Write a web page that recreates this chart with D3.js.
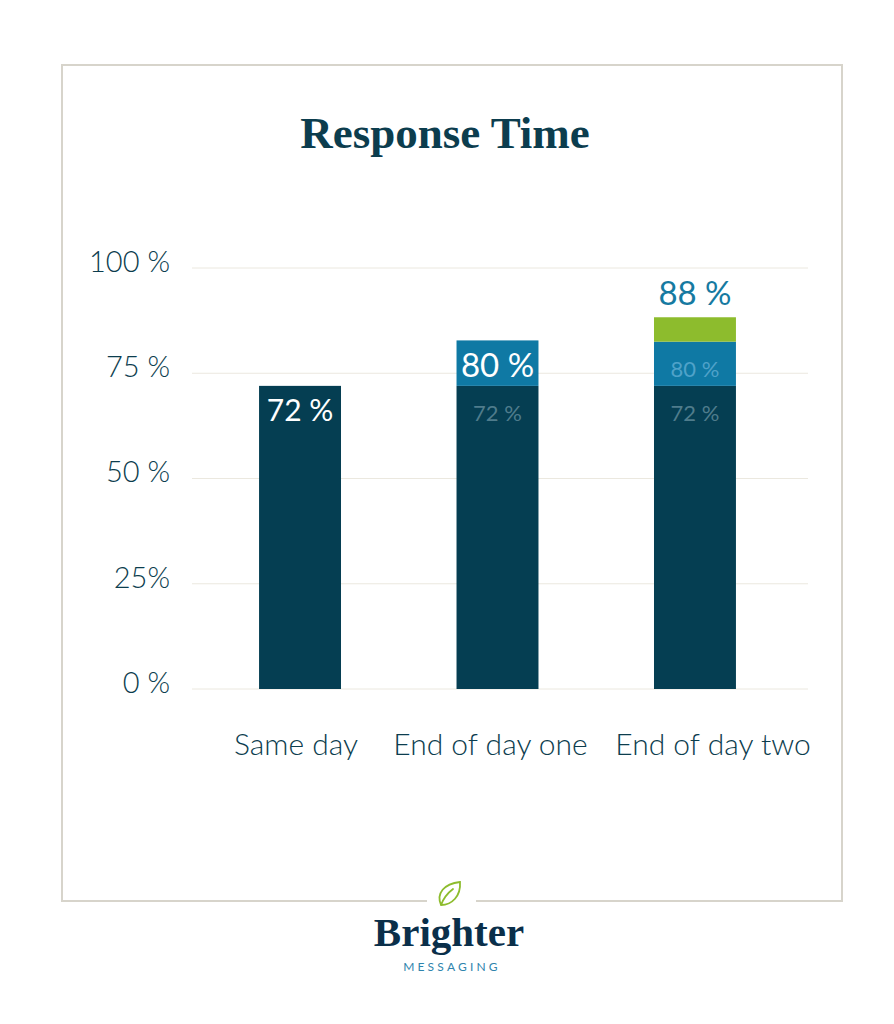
<!DOCTYPE html>
<html>
<head>
<meta charset="utf-8">
<script src="https://cdn.jsdelivr.net/npm/d3@7"></script>
<style>
  body { margin: 0; background: #fff; }
</style>
</head>
<body>
<div id="chart"></div>
<script>
const categories = ["Same day", "End of day one", "End of day two"];
const seriesKeys = ["sameDay", "dayOne", "dayTwo"];
// stacked segment heights (percentage points) as drawn
const sameDay = [72, 72, 72];
const dayOne = [0, 10.8, 10.5];
const dayTwo = [0, 0, 5.8];
// text shown in each segment ("" = none)
const sameDayLabels = ["72 %", "72 %", "72 %"];
const dayOneLabels = ["", "80 %", "80 %"];
const dayTwoLabels = ["", "", "88 %"];
const yTicks = [0, 25, 50, 75, 100];
const yTickLabels = ["0 %", "25%", "50 %", "75 %", "100 %"];

const width = 894, height = 1024;
const colors = { sameDay: "#053e52", dayOne: "#0f79a4", dayTwo: "#8dbc2d" };
const ink = "#0c3d4e";
// category labels are not quite centred under the bars in the original
const labelNudge = [-4, -7, 18];

const svg = d3.select("#chart").append("svg")
  .attr("width", width)
  .attr("height", height);

// frame with gap for the logo
svg.append("path")
  .attr("d", "M427,901 H62 V65 H842 V901 H476")
  .attr("fill", "none")
  .attr("stroke", "#d7d4cb")
  .attr("stroke-width", 2);

svg.append("text")
  .attr("x", 445).attr("y", 148)
  .attr("text-anchor", "middle")
  .attr("font-family", "'Liberation Serif', serif")
  .attr("font-weight", "bold")
  .attr("font-size", 45)
  .attr("fill", ink)
  .text("Response Time");

const x = d3.scaleBand()
  .domain(categories)
  .range([201, 794])
  .paddingInner(0.585)
  .paddingOuter(0.294);

const y = d3.scaleLinear()
  .domain([0, 100])
  .range([689, 268]);

// gridlines
svg.append("g")
  .selectAll("line")
  .data(yTicks)
  .join("line")
  .attr("x1", 192).attr("x2", 808)
  .attr("y1", d => y(d)).attr("y2", d => y(d))
  .attr("stroke", "#ebe8df")
  .attr("stroke-width", 1);

// y axis labels
const yAxis = d3.axisLeft(y)
  .tickValues(yTicks)
  .tickSize(0)
  .tickPadding(0)
  .tickFormat((d, i) => yTickLabels[i]);

svg.append("g")
  .attr("transform", "translate(170,0)")
  .call(yAxis)
  .call(g => g.select(".domain").remove())
  .call(g => g.selectAll("text")
    .attr("dy", "0.12em")
    .attr("font-family", "Lato, sans-serif")
    .attr("font-weight", 300)
    .attr("font-size", 29)
    .attr("fill", ink));

// category labels
const xAxis = d3.axisBottom(x).tickSize(0).tickPadding(0);
svg.append("g")
  .attr("transform", "translate(0,734)")
  .call(xAxis)
  .call(g => g.select(".domain").remove())
  .call(g => g.selectAll("text")
    .attr("dy", "0.7em")
    .attr("x", (d, i) => labelNudge[i])
    .attr("font-family", "Lato, sans-serif")
    .attr("font-weight", 300)
    .attr("font-size", 30)
    .attr("fill", ink));

// stacked bars
const rows = categories.map((c, i) => ({
  category: c, sameDay: sameDay[i], dayOne: dayOne[i], dayTwo: dayTwo[i]
}));
const labelSets = { sameDay: sameDayLabels, dayOne: dayOneLabels, dayTwo: dayTwoLabels };
const stacked = d3.stack().keys(seriesKeys)(rows);

const layer = svg.append("g").selectAll("g")
  .data(stacked)
  .join("g")
  .attr("fill", d => colors[d.key]);

layer.selectAll("rect")
  .data(d => d.filter(s => s[1] > s[0]))
  .join("rect")
  .attr("x", d => x(d.data.category))
  .attr("y", d => y(d[1]))
  .attr("width", x.bandwidth())
  .attr("height", d => y(d[0]) - y(d[1]));

// segment labels: top segment is bright, lower segments faded
const labels = [];
categories.forEach((c, i) => {
  const segs = stacked.filter(s => s[i][1] > s[i][0]);
  segs.forEach((s, j) => {
    const txt = labelSets[s.key][i];
    if (!txt) return;
    const isTop = j === segs.length - 1;
    labels.push({ c, key: s.key, lo: s[i][0], hi: s[i][1], txt, isTop });
  });
});

svg.append("g").selectAll("text")
  .data(labels)
  .join("text")
  .attr("x", d => x(d.c) + x.bandwidth() / 2)
  .attr("y", d => {
    if (d.isTop && d.key === "dayTwo") return y(d.hi) - 12;
    if (d.isTop && d.key === "dayOne") return y(d.hi) + 37;
    return y(d.hi) + 35;
  })
  .attr("text-anchor", "middle")
  .attr("font-family", "Lato, sans-serif")
  .attr("font-weight", 400)
  .attr("font-size", d => !d.isTop ? 22 : (d.key === "sameDay" ? 30 : 33))
  .attr("fill", d => {
    if (d.isTop) return d.key === "dayTwo" ? "#167aa1" : "#ffffff";
    return d.key === "dayOne" ? "#4fa2c9" : "#4f7c8c";
  })
  .text(d => d.txt);

// logo
svg.append("path")
  .attr("d", "M441,905 C436,893 444,884 460,882 C461,896 452,905 441,905 Z M441,905 C444,897 449,892 453,889")
  .attr("fill", "none")
  .attr("stroke", "#8dbc2d")
  .attr("stroke-width", 1.8)
  .attr("stroke-linecap", "round");

svg.append("text")
  .attr("x", 449).attr("y", 946)
  .attr("text-anchor", "middle")
  .attr("font-family", "'Liberation Serif', serif")
  .attr("font-weight", "bold")
  .attr("font-size", 41)
  .attr("fill", "#0a2f4a")
  .text("Brighter");

svg.append("text")
  .attr("x", 452).attr("y", 971)
  .attr("text-anchor", "middle")
  .attr("font-family", "Lato, sans-serif")
  .attr("font-weight", 400)
  .attr("font-size", 12)
  .attr("letter-spacing", 3.2)
  .attr("fill", "#2e84ad")
  .text("MESSAGING");
</script>
</body>
</html>
